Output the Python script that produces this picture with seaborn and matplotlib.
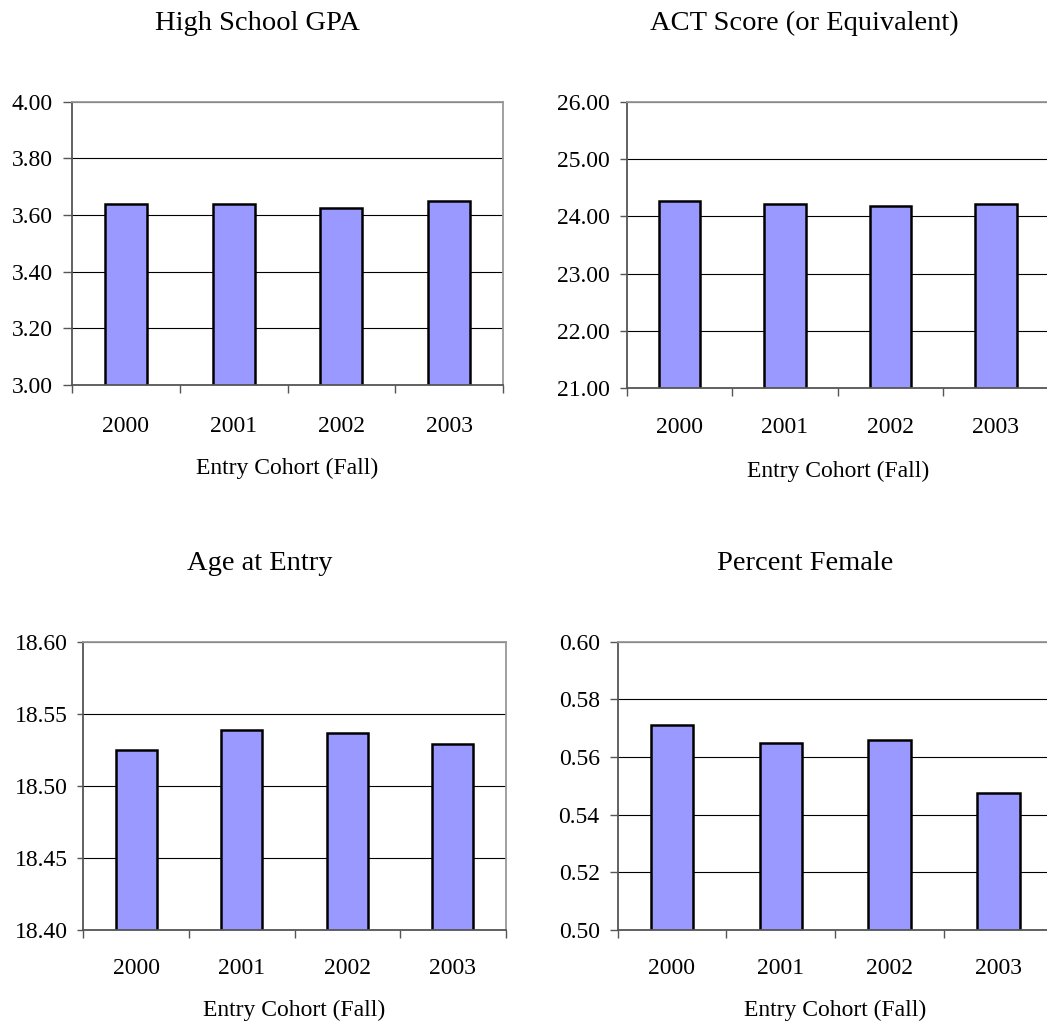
import matplotlib
matplotlib.use("Agg")
import matplotlib.pyplot as plt
import seaborn as sns
import pandas as pd

# Entering cohorts and the four characteristics tracked for each
cohorts = ["2000", "2001", "2002", "2003"]
hs_gpa = [3.64, 3.64, 3.625, 3.65]
act_score = [24.27, 24.22, 24.18, 24.22]
entry_age = [18.525, 18.539, 18.537, 18.529]
pct_female = [0.571, 0.565, 0.566, 0.5475]

titles = ["High School GPA", "ACT Score (or Equivalent)", "Age at Entry", "Percent Female"]
y_limits = [(3.00, 4.00), (21.00, 26.00), (18.40, 18.60), (0.50, 0.60)]
y_ticks = [
    [3.00, 3.20, 3.40, 3.60, 3.80, 4.00],
    [21.00, 22.00, 23.00, 24.00, 25.00, 26.00],
    [18.40, 18.45, 18.50, 18.55, 18.60],
    [0.50, 0.52, 0.54, 0.56, 0.58, 0.60],
]
x_label = "Entry Cohort (Fall)"

sns.set_style("white")
plt.rcParams["font.family"] = ["Liberation Serif", "DejaVu Serif"]
plt.rcParams["text.color"] = "black"
plt.rcParams["axes.labelcolor"] = "black"
plt.rcParams["xtick.labelcolor"] = "black"
plt.rcParams["ytick.labelcolor"] = "black"

W, H = 1047, 1021
fig = plt.figure(figsize=(W / 100, H / 100), dpi=100)

# panel boxes in pixels: left, top, right, bottom
boxes = [
    (72.0, 101.7, 503.0, 385.0),
    (626.7, 101.7, 1048.7, 388.3),
    (83.3, 641.7, 505.7, 930.0),
    (617.5, 641.7, 1053.0, 930.0),
]
title_pos = [(257.5, 30.0), (804.0, 30.0), (260.0, 570.0), (805.0, 570.0)]
xtick_pad = [22.5, 20.5, 20.5, 20.5]
xlabel_pad = [14.5, 16.5, 15.0, 15.0]
ytick_len = [6.8, 5.2, 4.4, 5.8]
fs = 17
title_fs = 20.5

series = [hs_gpa, act_score, entry_age, pct_female]
spine_dark = "#555555"
spine_light = "#999999"

for i, vals in enumerate(series):
    l, t, r, b = boxes[i]
    ax = fig.add_axes([l / W, 1 - b / H, (r - l) / W, (b - t) / H])
    df = pd.DataFrame({"cohort": cohorts, "value": vals})
    sns.barplot(data=df, x="cohort", y="value", ax=ax, color="#9999FF",
                saturation=1, width=0.39, edgecolor="black", linewidth=1.8)
    ax.set_xlim(-0.5, len(cohorts) - 0.5)
    ax.set_ylim(*y_limits[i])
    ax.set_yticks(y_ticks[i])
    ax.set_yticklabels([f"{v:.2f}" for v in y_ticks[i]])

    # horizontal gridlines behind the bars
    ax.set_axisbelow(True)
    ax.yaxis.grid(True, color="black", linewidth=0.8)
    ax.xaxis.grid(False)

    # category boundary ticks below the axis, labels at the centres
    ax.set_xticks([k - 0.5 for k in range(len(cohorts) + 1)], minor=True)
    ax.tick_params(axis="x", which="major", length=0, pad=xtick_pad[i], labelsize=fs)
    ax.tick_params(axis="x", which="minor", length=5.8, width=1.0,
                   color=spine_dark, direction="out", bottom=True)
    ax.tick_params(axis="y", which="major", length=ytick_len[i], width=1.0,
                   color=spine_dark, direction="out", left=True, pad=7.0, labelsize=fs)

    ax.set_xlabel(x_label, fontsize=fs, labelpad=xlabel_pad[i])
    ax.set_ylabel("")

    for side in ["left", "bottom"]:
        ax.spines[side].set_color(spine_dark)
        ax.spines[side].set_linewidth(1.3)
    for side in ["top", "right"]:
        ax.spines[side].set_color(spine_light)
        ax.spines[side].set_linewidth(1.3)
        ax.spines[side].set_visible(True)

    tx, ty = title_pos[i]
    fig.text(tx / W, 1 - ty / H, titles[i], ha="center", va="baseline", fontsize=title_fs)

fig.savefig("out.png", dpi=100, facecolor="white")
